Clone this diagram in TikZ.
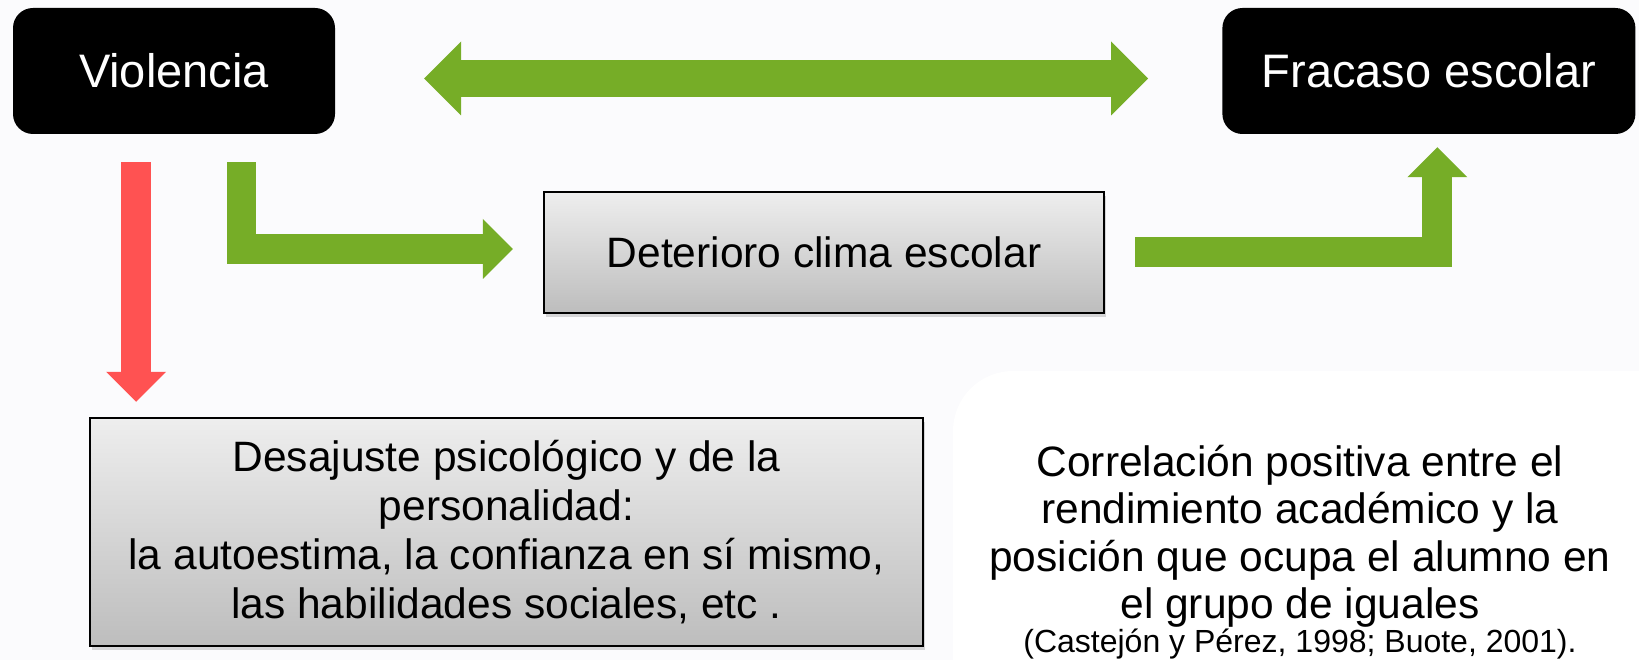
\documentclass[tikz,border=0pt]{standalone}
\usepackage{fontspec}
\setmainfont{Liberation Sans}
\usetikzlibrary{positioning, arrows.meta, shadows}

\definecolor{pagebg}{RGB}{251,251,253}
\definecolor{arrowgreen}{RGB}{118,173,39}
\definecolor{arrowred}{RGB}{255,82,82}
\definecolor{boxtop}{RGB}{238,238,238}
\definecolor{boxbot}{RGB}{189,189,189}

\begin{document}
\begin{tikzpicture}[
x=1pt, y=-1pt,
darkbox/.style={rectangle,
  rounded corners=20pt,
  fill=black,
  text=white,
  inner sep=0pt,
  minimum height=126pt,
  font=\fontsize{47}{56}\selectfont
},
greybox/.style={rectangle,
  draw=black,
  line width=2.5pt,
  top color=boxtop,
  bottom color=boxbot,
  inner sep=0pt,
  align=center,
  drop shadow={shadow xshift=2pt, shadow yshift=-4pt, opacity=0.3},
  font=\fontsize{42.5}{49}\selectfont
},
notetext/.style={
  align=center,
  inner sep=0pt,
  font=\fontsize{42.5}{47.4}\selectfont
},
bighead/.tip={Triangle[length=37pt, width=74pt, line width=0pt 0 0]},
midhead/.tip={Triangle[length=30pt, width=60pt, line width=0pt 0 0]},
fatgreen/.style={draw=arrowgreen, line width=30pt, line join=miter},
fatred/.style={draw=arrowred, line width=30pt}
]

\useasboundingbox (0,0) rectangle (1639,660);
\fill[pagebg] (0,0) rectangle (1639,660);
\fill[white, rounded corners=60pt] (953,371) rectangle (1720,740);

\node[darkbox, minimum width=322pt] (viol) at (174,71)
    {Violencia};
\node[darkbox, minimum width=413pt, right=887pt of viol] (fracaso)
    {Fracaso escolar};
\node[greybox, minimum width=560pt, minimum height=121pt] (deter) at (824,252.5)
    {Deterioro clima escolar};
\node[greybox, minimum width=833pt, minimum height=228pt] (desaj) at (506.5,532)
    {Desajuste psicológico y de la\\personalidad:\\la autoestima, la confianza en sí mismo,\\las habilidades sociales, etc .};
\node[notetext] (correl) at (1300,552.2)
    {Correlación positiva entre el\\rendimiento académico y la\\posición que ocupa el alumno en\\el grupo de iguales\\[-13pt]{\fontsize{32}{38}\selectfont (Castejón y Pérez, 1998; Buote, 2001).}};

\coordinate (redtop) at ([xshift=-38pt]viol.south);
\coordinate (greentop) at ([xshift=67.5pt]viol.south);
\coordinate (upfoot) at ([xshift=8.5pt]fracaso.south);

\draw[fatgreen, line width=37pt, {bighead}-{bighead}, shorten <=89pt, shorten >=74pt] ([yshift=-7.5pt]viol.east) -- ([yshift=-7.5pt]fracaso.west);
\draw[fatred, -{midhead}, shorten <=28pt, shorten >=15pt] (redtop) -- (redtop |- desaj.north);
\draw[fatgreen, line width=29.5pt, -{midhead}, shorten <=28pt, shorten >=30pt] (greentop) |- ([yshift=3.5pt]deter.west);
\draw[fatgreen, -{midhead}, shorten <=30pt, shorten >=13pt] (deter.east) -| (upfoot);
\end{tikzpicture}
\end{document}
